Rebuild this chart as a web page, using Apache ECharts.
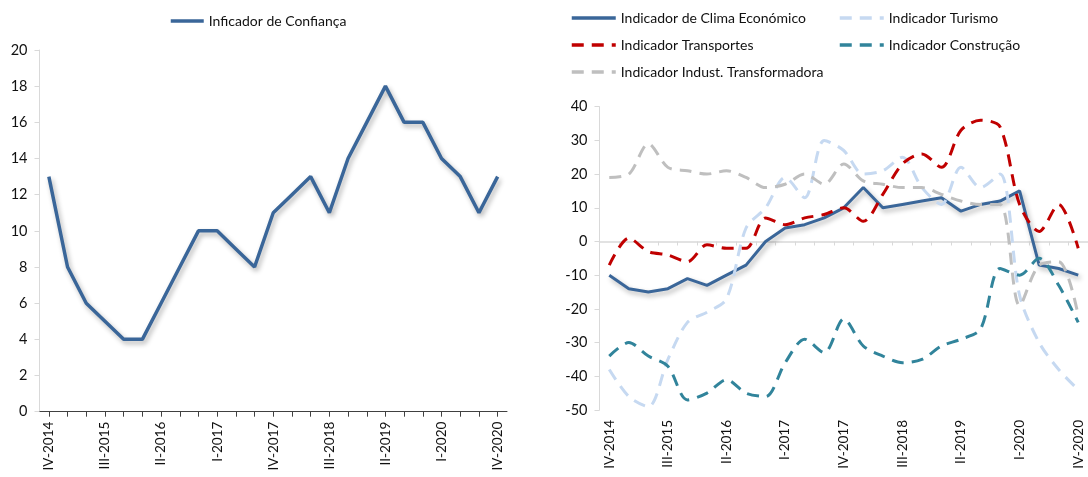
<!DOCTYPE html>
<html>
<head>
<meta charset="utf-8">
<script src="https://cdn.jsdelivr.net/npm/echarts@6/dist/echarts.min.js"></script>
<style>
html,body{margin:0;padding:0;background:#fff;}
#c{width:1088px;height:477px;}
</style>
</head>
<body>
<div id="c"></div>
<script>
const categories = ["IV-2014","I-2015","II-2015","III-2015","IV-2015","I-2016","II-2016","III-2016","IV-2016",
  "I-2017","II-2017","III-2017","IV-2017","I-2018","II-2018","III-2018","IV-2018",
  "I-2019","II-2019","III-2019","IV-2019","I-2020","II-2020","III-2020","IV-2020"];
const confianca = [13,8,6,5,4,4,6,8,10,10,9,8,11,12,13,11,14,16,18,16,16,14,13,11,13];
const clima = [-10,-14,-15,-14,-11,-13,-10,-7,0,4,5,7,10,16,10,11,12,13,9,11,12,15,-7,-8,-10];
const turismo = [-38,-46,-49,-35,-24,-21,-17,4,10,19,13,30,27,20,21,25,16,11,22,16,20,-16,-30,-38,-44];
const transportes = [-7,1,-3,-4,-6,-1,-2,-2,7,5,7,8,10,6,14,23,26,22,33,36,34,11,3,11,-2];
const construcao = [-34,-30,-34,-37,-47,-45,-41,-45,-46,-36,-29,-33,-23,-31,-34,-36,-35,-31,-29,-26,-8,-10,-5,-13,-24];
const industria = [19,20,29,22,21,20,21,19,16,17,20,17,23,18,17,16,16,14,12,11,11,-19,-7,-6,-22];
const leftTicks = [0,20,2];
const rightTicks = [-50,40,10];

const FONT = 'Lato';
const TXT = '#111';
const GRAYAX = '#d9d9d9';
const shadow = {shadowColor:'rgba(0,0,0,0.3)', shadowBlur:5, shadowOffsetX:2, shadowOffsetY:3};
const dash = [12,8];

const chart = echarts.init(document.getElementById('c'), null, {renderer:'canvas'});
const xLabel = {interval:2, rotate:90, margin:10, fontSize:13.5, color:TXT, fontFamily:FONT};
const yLabel = {fontSize:14.5, color:TXT, fontFamily:FONT, margin:12};
const legendBase = {itemStyle:{opacity:0}, lineStyle:{width:3.5},
  textStyle:{fontSize:14, color:TXT, fontFamily:FONT}};

chart.setOption({
  animation:false,
  textStyle:{fontFamily:FONT},
  grid:[
    {left:39.5, top:50, width:467.5, height:361.7},
    {left:599.5, top:106.7, width:496.5, height:303.3}
  ],
  legend:[
    Object.assign({data:['Inficador de Confiança'], left:164, top:9, itemWidth:33, itemHeight:14, itemGap:10}, legendBase),
    Object.assign({data:['Indicador de Clima Económico','Indicador Transportes','Indicador Indust. Transformadora'],
     orient:'vertical', left:565, top:6, itemGap:13, itemWidth:44, itemHeight:14}, legendBase),
    Object.assign({data:['Indicador Turismo','Indicador Construção'],
     orient:'vertical', left:833, top:6, itemGap:13, itemWidth:44, itemHeight:14}, legendBase)
  ],
  xAxis:[
    {gridIndex:0, type:'category', data:categories, boundaryGap:true,
     axisLine:{lineStyle:{color:'#404040', width:1}},
     axisTick:{show:true, interval:0, alignWithLabel:true, length:5, lineStyle:{color:'#404040'}},
     axisLabel:xLabel, splitLine:{show:false}},
    {gridIndex:1, type:'category', data:categories, boundaryGap:true, position:'bottom',
     axisLine:{show:false, onZero:false}, axisTick:{show:false},
     axisLabel:xLabel, splitLine:{show:false}},
    {gridIndex:1, type:'category', data:categories, boundaryGap:true, position:'bottom',
     axisLine:{show:true, onZero:true, lineStyle:{color:GRAYAX, width:1.5}},
     axisTick:{show:true, interval:0, length:4, lineStyle:{color:GRAYAX}},
     axisLabel:{show:false}, splitLine:{show:false}}
  ],
  yAxis:[
    {gridIndex:0, type:'value', min:leftTicks[0], max:leftTicks[1], interval:leftTicks[2],
     axisLine:{show:true, lineStyle:{color:GRAYAX}},
     axisTick:{show:true, length:5, lineStyle:{color:GRAYAX}},
     splitLine:{show:false}, axisLabel:yLabel},
    {gridIndex:1, type:'value', min:rightTicks[0], max:rightTicks[1], interval:rightTicks[2],
     axisLine:{show:true, lineStyle:{color:GRAYAX}},
     axisTick:{show:true, length:5, lineStyle:{color:GRAYAX}},
     splitLine:{show:false}, axisLabel:yLabel}
  ],
  series:[
    {name:'Inficador de Confiança', type:'line', xAxisIndex:0, yAxisIndex:0, data:confianca,
     symbol:'none', color:'#3A6699', lineStyle:Object.assign({width:3.5, color:'#3A6699'}, shadow)},
    {name:'Indicador de Clima Económico', type:'line', xAxisIndex:1, yAxisIndex:1, data:clima,
     symbol:'none', color:'#3A6699', lineStyle:Object.assign({width:3, color:'#3A6699'}, shadow)},
    {name:'Indicador Turismo', type:'line', xAxisIndex:1, yAxisIndex:1, data:turismo,
     symbol:'none', smooth:0.3, color:'#C6D9F1', lineStyle:{width:3, color:'#C6D9F1', type:dash}},
    {name:'Indicador Transportes', type:'line', xAxisIndex:1, yAxisIndex:1, data:transportes,
     symbol:'none', smooth:0.3, color:'#C00000', lineStyle:{width:3, color:'#C00000', type:dash}},
    {name:'Indicador Construção', type:'line', xAxisIndex:1, yAxisIndex:1, data:construcao,
     symbol:'none', smooth:0.3, color:'#31849B', lineStyle:{width:3, color:'#31849B', type:dash}},
    {name:'Indicador Indust. Transformadora', type:'line', xAxisIndex:1, yAxisIndex:1, data:industria,
     symbol:'none', smooth:0.3, color:'#BFBFBF', lineStyle:{width:3, color:'#BFBFBF', type:dash}}
  ]
});
</script>
</body>
</html>
